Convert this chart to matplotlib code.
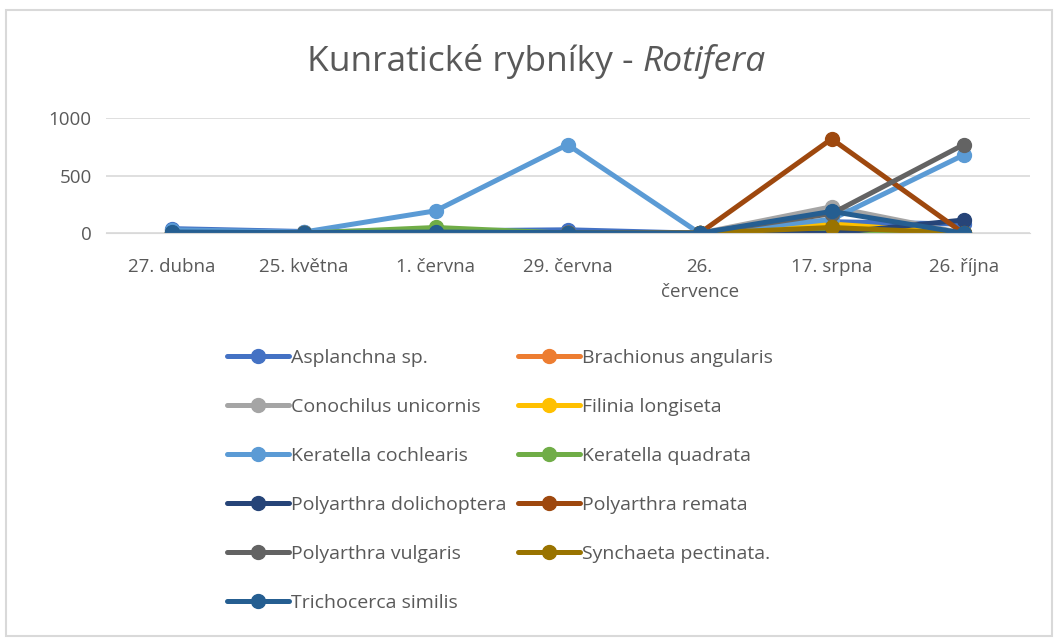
import matplotlib
matplotlib.use('Agg')
import matplotlib.pyplot as plt
from matplotlib.patches import Rectangle

plt.rcParams['font.family'] = ['Open Sans', 'DejaVu Sans']

dates = ['27. dubna', '25. května', '1. června', '29. června', '26.\nčervence', '17. srpna', '26. října']

# values
asplanchna = [40, 15, 20, 30, 0, 100, 80]
brachionus = [0, 0, 0, 0, 0, 20, 0]
conochilus = [0, 0, 0, 0, 0, 230, 0]
filinia = [0, 0, 0, 0, 0, 80, 0]
ker_cochlearis = [30, 10, 195, 770, 0, 120, 680]
ker_quadrata = [0, 0, 50, 0, 0, 30, 0]
pol_dolichoptera = [0, 0, 0, 0, 0, 0, 115]
pol_remata = [0, 0, 0, 0, 0, 820, 0]
pol_vulgaris = [0, 0, 0, 0, 0, 170, 770]
synchaeta = [0, 0, 0, 0, 0, 50, 0]
trichocerca = [10, 5, 10, 5, 0, 190, 0]

series = [
    ('Asplanchna sp.', asplanchna, '#4472C4'),
    ('Brachionus angularis', brachionus, '#ED7D31'),
    ('Conochilus unicornis', conochilus, '#A5A5A5'),
    ('Filinia longiseta', filinia, '#FFC000'),
    ('Keratella cochlearis', ker_cochlearis, '#5B9BD5'),
    ('Keratella quadrata', ker_quadrata, '#70AD47'),
    ('Polyarthra dolichoptera', pol_dolichoptera, '#264478'),
    ('Polyarthra remata', pol_remata, '#9E480E'),
    ('Polyarthra vulgaris', pol_vulgaris, '#636363'),
    ('Synchaeta pectinata.', synchaeta, '#997300'),
    ('Trichocerca similis', trichocerca, '#255E91'),
]

fig = plt.figure(figsize=(10.56, 6.39), dpi=100)
ax = fig.add_axes([0.1, 0.635, 0.875, 0.18])

x = range(len(dates))
handles = []
for name, vals, col in series:
    h, = ax.plot(x, vals, color=col, lw=3.6, marker='o', ms=10, label=name,
                 solid_capstyle='round')
    handles.append(h)

ax.set_xlim(-0.5, len(dates) - 0.5)
ax.set_ylim(0, 1000)
ax.set_yticks([0, 500, 1000])
ax.set_xticks(list(x))
ax.set_xticklabels(dates, fontsize=13.5, color='#595959')
ax.tick_params(axis='y', labelsize=13.5, colors='#595959', length=0, pad=10)
ax.tick_params(axis='x', length=0, pad=18)
ax.grid(axis='y', color='#D9D9D9', lw=1.2)
ax.set_axisbelow(True)
for s in ax.spines.values():
    s.set_visible(False)
ax.spines['bottom'].set_visible(True)
ax.spines['bottom'].set_color('#D9D9D9')
for lbl in ax.get_xticklabels():
    lbl.set_linespacing(1.5)

# title: normal part + italic part, centred together
t1 = fig.text(0.5, 0.903, 'Kunratické rybníky - ', ha='left', va='center',
              fontsize=25.5, color='#595959')
t2 = fig.text(0.5, 0.903, 'Rotifera', ha='left', va='center',
              fontsize=25.5, color='#595959', style='italic')
r = fig.canvas.get_renderer()
w1 = t1.get_window_extent(r).width / fig.bbox.width
w2 = t2.get_window_extent(r).width / fig.bbox.width
x0 = 0.508 - (w1 + w2) / 2
t1.set_x(x0)
t2.set_x(x0 + w1)

# row-wise legend order (matplotlib fills columns first)
order = [0, 2, 4, 6, 8, 10, 1, 3, 5, 7, 9]
leg = fig.legend(handles=[handles[i] for i in order], loc='upper left',
                 bbox_to_anchor=(0.198, 0.482), ncol=2, frameon=False,
                 fontsize=14, handlelength=3.2, handletextpad=0.1,
                 columnspacing=0.6, labelspacing=1.6, labelcolor='#595959')

fig.patches.append(Rectangle((0.006, 0.005), 0.99, 0.98, transform=fig.transFigure,
                             fill=False, edgecolor='#D9D9D9', lw=1.5))

fig.savefig('out.png', dpi=100)
